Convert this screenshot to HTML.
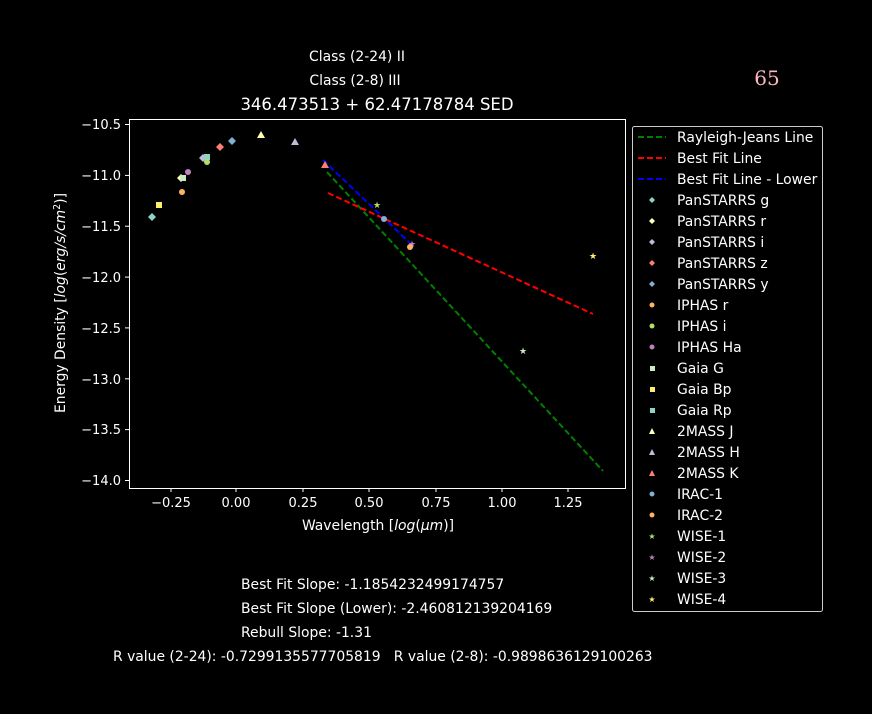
<!DOCTYPE html>
<html><head><style>
body{margin:0;background:#000;overflow:hidden;}
svg text{font-family:"DejaVu Sans","Liberation Sans",sans-serif;fill:#fff;white-space:pre;}
</style></head><body>
<svg width="872" height="714" xmlns="http://www.w3.org/2000/svg" style="display:block">
<rect width="872" height="714" fill="#000"/>
<text x="357" y="61" font-size="13.9" text-anchor="middle">Class (2-24) II</text>
<text x="355" y="85" font-size="13.9" text-anchor="middle">Class (2-8) III</text>
<text x="377" y="110" font-size="16.5" text-anchor="middle">346.473513 + 62.47178784 SED</text>
<text x="767" y="85" font-size="20" style="fill:#ffb6c1;font-family:'DejaVu Serif',serif" text-anchor="middle">65</text>
<rect x="129.5" y="119.5" width="496" height="369" fill="none" stroke="#fff" stroke-width="1"/>
<g stroke="#fff">
<line x1="171" y1="488" x2="171" y2="492"/><line x1="236" y1="488" x2="236" y2="492"/><line x1="303" y1="488" x2="303" y2="492"/><line x1="369" y1="488" x2="369" y2="492"/><line x1="436" y1="488" x2="436" y2="492"/><line x1="502" y1="488" x2="502" y2="492"/><line x1="568" y1="488" x2="568" y2="492"/>
<line x1="125" y1="124.5" x2="129" y2="124.5"/><line x1="125" y1="175.4" x2="129" y2="175.4"/><line x1="125" y1="226.2" x2="129" y2="226.2"/><line x1="125" y1="277.1" x2="129" y2="277.1"/><line x1="125" y1="327.9" x2="129" y2="327.9"/><line x1="125" y1="378.8" x2="129" y2="378.8"/><line x1="125" y1="429.6" x2="129" y2="429.6"/><line x1="125" y1="480.5" x2="129" y2="480.5"/>
</g>
<g font-size="13" text-anchor="middle">
<text x="171" y="507">−0.25</text><text x="236" y="507">0.00</text><text x="303" y="507">0.25</text><text x="369" y="507">0.50</text><text x="436" y="507">0.75</text><text x="502" y="507">1.00</text><text x="568" y="507">1.25</text>
</g>
<g font-size="13" text-anchor="end">
<text x="121" y="129">−10.5</text><text x="121" y="180">−11.0</text><text x="121" y="231">−11.5</text><text x="121" y="282">−12.0</text><text x="121" y="333">−12.5</text><text x="121" y="384">−13.0</text><text x="121" y="434">−13.5</text><text x="121" y="485">−14.0</text>
</g>
<text x="378" y="530" font-size="13.9" text-anchor="middle">Wavelength [<tspan font-style="italic">log</tspan>(<tspan font-style="italic">μm</tspan>)]</text>
<text transform="translate(65,303) rotate(-90)" font-size="13.9" text-anchor="middle">Energy Density [<tspan font-style="italic">log</tspan>(<tspan font-style="italic">erg/s/cm</tspan><tspan font-size="9.5" dy="-5">2</tspan><tspan dy="5">)]</tspan></text>
<g stroke-dasharray="6,3" stroke-width="2" fill="none">
<line x1="327" y1="172" x2="603" y2="471" stroke="#008000"/>
<line x1="328" y1="193" x2="593" y2="314" stroke="#ff0000"/>
<line x1="323" y1="160" x2="414" y2="247" stroke="#0000ff"/>
</g>
<g>
<polygon points="152,213 156,217 152,221 148,217" fill="#8dd3c7"/>
<rect x="156" y="202" width="6" height="6" fill="#ffed6f"/>
<circle cx="182" cy="192" r="3" fill="#fdb462"/>
<polygon points="181,174 185,178 181,182 177,178" fill="#ffffb3"/>
<rect x="180" y="175" width="6" height="6" fill="#ccebc5"/>
<circle cx="188" cy="172" r="3" fill="#bc80bd"/>
<polygon points="203,154 207,158 203,162 199,158" fill="#bebada"/>
<rect x="204" y="154" width="6" height="6" fill="#8dd3c7"/>
<circle cx="207" cy="162" r="3" fill="#b3de69"/>
<polygon points="220,143 224,147 220,151 216,147" fill="#fb8072"/>
<polygon points="232,137 236,141 232,145 228,141" fill="#80b1d3"/>
<polygon points="261,131 265,138 257,138" fill="#ffffb3"/>
<polygon points="295,138 299,145 291,145" fill="#bebada"/>
<polygon points="325,161 329,168 321,168" fill="#fb8072"/>
<text x="377" y="208" font-size="9" text-anchor="middle" style="fill:#b3de69">★</text>
<circle cx="384" cy="219" r="3" fill="#80b1d3"/>
<text x="412" y="247" font-size="9" text-anchor="middle" style="fill:#bc80bd">★</text>
<circle cx="410" cy="247" r="3" fill="#fdb462"/>
<text x="523" y="354" font-size="9" text-anchor="middle" style="fill:#ccebc5">★</text>
<text x="593" y="259" font-size="9" text-anchor="middle" style="fill:#ffed6f">★</text>
</g>
<rect x="632.5" y="126.5" width="190" height="485" rx="2" fill="#000" stroke="#ccc"/>
<g stroke-dasharray="6,3" stroke-width="2">
<line x1="638" y1="137" x2="666" y2="137" stroke="#008000"/>
<line x1="638" y1="158" x2="666" y2="158" stroke="#ff0000"/>
<line x1="638" y1="179" x2="666" y2="179" stroke="#0000ff"/>
</g>
<g font-size="13.9">
<text x="677" y="142">Rayleigh-Jeans Line</text>
<text x="677" y="163">Best Fit Line</text>
<text x="677" y="184">Best Fit Line - Lower</text>
<text x="677" y="205">PanSTARRS g</text>
<text x="677" y="226">PanSTARRS r</text>
<text x="677" y="247">PanSTARRS i</text>
<text x="677" y="268">PanSTARRS z</text>
<text x="677" y="289">PanSTARRS y</text>
<text x="677" y="310">IPHAS r</text>
<text x="677" y="331">IPHAS i</text>
<text x="677" y="352">IPHAS Ha</text>
<text x="677" y="373">Gaia G</text>
<text x="677" y="394">Gaia Bp</text>
<text x="677" y="415">Gaia Rp</text>
<text x="677" y="436">2MASS J</text>
<text x="677" y="457">2MASS H</text>
<text x="677" y="478">2MASS K</text>
<text x="677" y="499">IRAC-1</text>
<text x="677" y="520">IRAC-2</text>
<text x="677" y="541">WISE-1</text>
<text x="677" y="562">WISE-2</text>
<text x="677" y="583">WISE-3</text>
<text x="677" y="604">WISE-4</text>
</g>
<g>
<polygon points="652,197 655,200 652,203 649,200" fill="#8dd3c7"/>
<polygon points="652,218 655,221 652,224 649,221" fill="#ffffb3"/>
<polygon points="652,239 655,242 652,245 649,242" fill="#bebada"/>
<polygon points="652,260 655,263 652,266 649,263" fill="#fb8072"/>
<polygon points="652,281 655,284 652,287 649,284" fill="#80b1d3"/>
<circle cx="652" cy="305" r="2.5" fill="#fdb462"/>
<circle cx="652" cy="326" r="2.5" fill="#b3de69"/>
<circle cx="652" cy="347" r="2.5" fill="#bc80bd"/>
<rect x="650" y="366" width="5" height="5" fill="#ccebc5"/>
<rect x="650" y="387" width="5" height="5" fill="#ffed6f"/>
<rect x="650" y="408" width="5" height="5" fill="#8dd3c7"/>
<polygon points="652,428 655,434 649,434" fill="#ffffb3"/>
<polygon points="652,449 655,455 649,455" fill="#bebada"/>
<polygon points="652,470 655,476 649,476" fill="#fb8072"/>
<circle cx="652" cy="494" r="2.5" fill="#80b1d3"/>
<circle cx="652" cy="515" r="2.5" fill="#fdb462"/>
<text x="652" y="539" font-size="8" text-anchor="middle" style="fill:#b3de69">★</text>
<text x="652" y="560" font-size="8" text-anchor="middle" style="fill:#bc80bd">★</text>
<text x="652" y="581" font-size="8" text-anchor="middle" style="fill:#ccebc5">★</text>
<text x="652" y="602" font-size="8" text-anchor="middle" style="fill:#ffed6f">★</text>
</g>
<g font-size="13.9">
<text x="241" y="589">Best Fit Slope: -1.1854232499174757</text>
<text x="241" y="613">Best Fit Slope (Lower): -2.460812139204169</text>
<text x="241" y="637">Rebull Slope: -1.31</text>
<text x="113" y="661">R value (2-24): -0.7299135577705819   R value (2-8): -0.9898636129100263</text>
</g>
</svg>
</body></html>
